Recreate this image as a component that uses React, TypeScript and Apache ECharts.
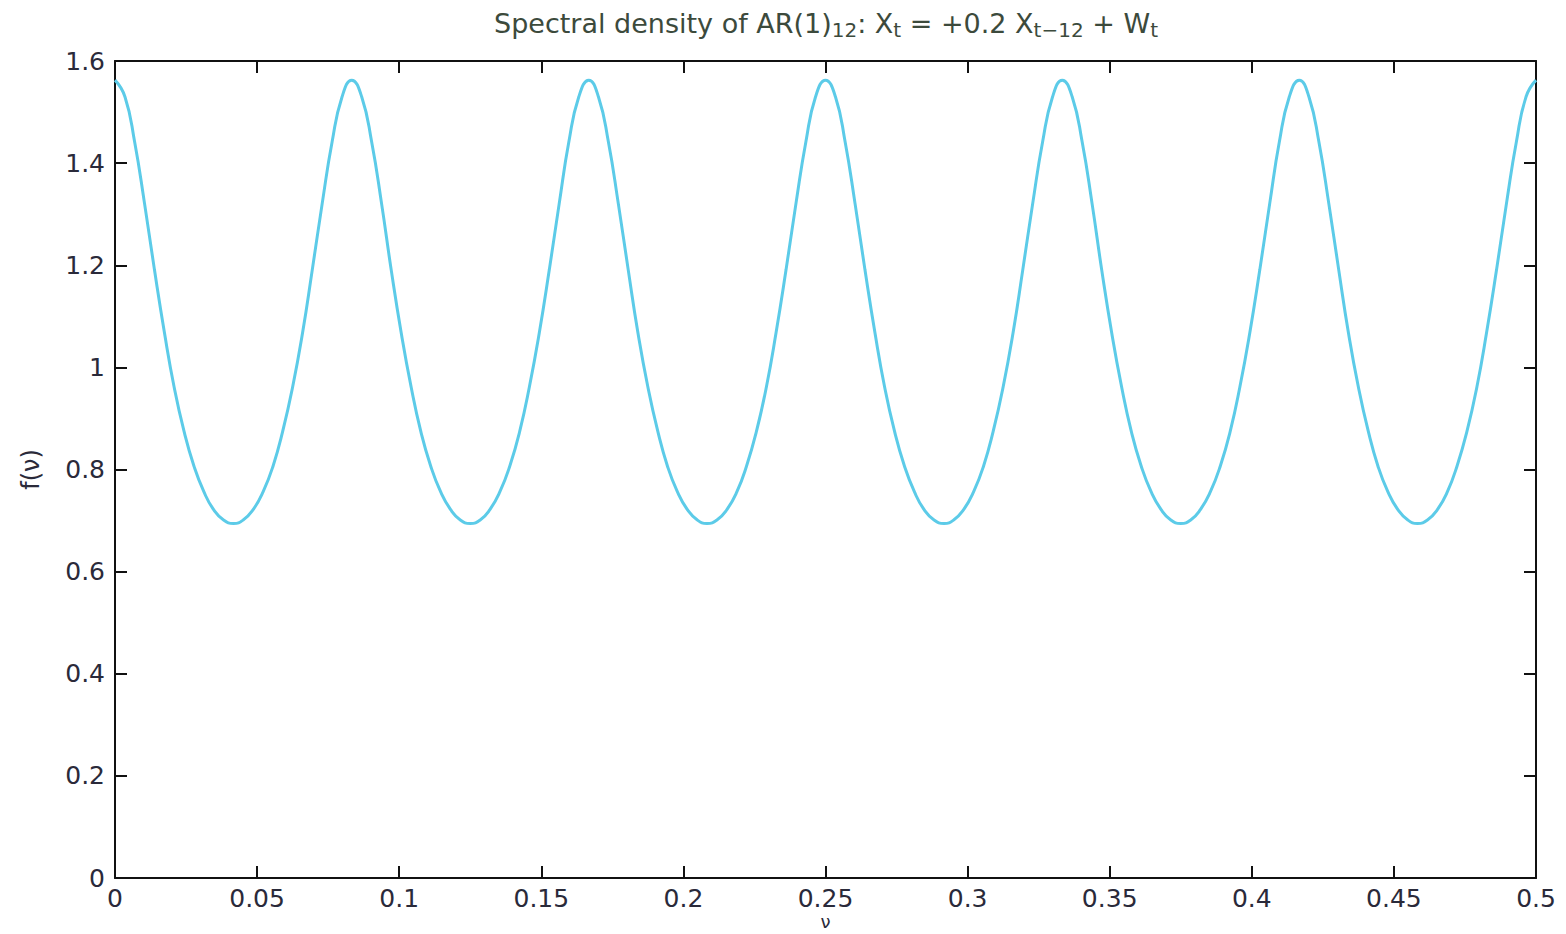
import React, { useEffect, useRef } from "react";
import * as echarts from "echarts";

// frequency ν (cycles per unit time), read along the x axis
const nu: number[] = [
  0, 0.0035, 0.0069, 0.0104, 0.0139, 0.0174, 0.0208, 0.0243, 0.0278, 0.0313, 0.0347, 0.0382,
  0.0417, 0.0451, 0.0486, 0.0521, 0.0556, 0.059, 0.0625, 0.066, 0.0694, 0.0729, 0.0764, 0.0799,
  0.0833, 0.0868, 0.0903, 0.0938, 0.0972, 0.1007, 0.1042, 0.1076, 0.1111, 0.1146, 0.1181, 0.1215,
  0.125, 0.1285, 0.1319, 0.1354, 0.1389, 0.1424, 0.1458, 0.1493, 0.1528, 0.1563, 0.1597, 0.1632,
  0.1667, 0.1701, 0.1736, 0.1771, 0.1806, 0.184, 0.1875, 0.191, 0.1944, 0.1979, 0.2014, 0.2049,
  0.2083, 0.2118, 0.2153, 0.2188, 0.2222, 0.2257, 0.2292, 0.2326, 0.2361, 0.2396, 0.2431, 0.2465,
  0.25, 0.2535, 0.2569, 0.2604, 0.2639, 0.2674, 0.2708, 0.2743, 0.2778, 0.2813, 0.2847, 0.2882,
  0.2917, 0.2951, 0.2986, 0.3021, 0.3056, 0.309, 0.3125, 0.316, 0.3194, 0.3229, 0.3264, 0.3299,
  0.3333, 0.3368, 0.3403, 0.3438, 0.3472, 0.3507, 0.3542, 0.3576, 0.3611, 0.3646, 0.3681, 0.3715,
  0.375, 0.3785, 0.3819, 0.3854, 0.3889, 0.3924, 0.3958, 0.3993, 0.4028, 0.4063, 0.4097, 0.4132,
  0.4167, 0.4201, 0.4236, 0.4271, 0.4306, 0.434, 0.4375, 0.441, 0.4444, 0.4479, 0.4514, 0.4549,
  0.4583, 0.4618, 0.4653, 0.4688, 0.4722, 0.4757, 0.4792, 0.4826, 0.4861, 0.4896, 0.4931, 0.4965,
  0.5,
];

// spectral density f(ν)
const density: number[] = [
  1.5625, 1.5299, 1.4418, 1.3207, 1.1905, 1.0678, 0.9615, 0.8745, 0.8065, 0.756, 0.7213, 0.7011,
  0.6944, 0.7011, 0.7213, 0.756, 0.8065, 0.8745, 0.9615, 1.0678, 1.1905, 1.3207, 1.4418, 1.5299,
  1.5625, 1.5299, 1.4418, 1.3207, 1.1905, 1.0678, 0.9615, 0.8745, 0.8065, 0.756, 0.7213, 0.7011,
  0.6944, 0.7011, 0.7213, 0.756, 0.8065, 0.8745, 0.9615, 1.0678, 1.1905, 1.3207, 1.4418, 1.5299,
  1.5625, 1.5299, 1.4418, 1.3207, 1.1905, 1.0678, 0.9615, 0.8745, 0.8065, 0.756, 0.7213, 0.7011,
  0.6944, 0.7011, 0.7213, 0.756, 0.8065, 0.8745, 0.9615, 1.0678, 1.1905, 1.3207, 1.4418, 1.5299,
  1.5625, 1.5299, 1.4418, 1.3207, 1.1905, 1.0678, 0.9615, 0.8745, 0.8065, 0.756, 0.7213, 0.7011,
  0.6944, 0.7011, 0.7213, 0.756, 0.8065, 0.8745, 0.9615, 1.0678, 1.1905, 1.3207, 1.4418, 1.5299,
  1.5625, 1.5299, 1.4418, 1.3207, 1.1905, 1.0678, 0.9615, 0.8745, 0.8065, 0.756, 0.7213, 0.7011,
  0.6944, 0.7011, 0.7213, 0.756, 0.8065, 0.8745, 0.9615, 1.0678, 1.1905, 1.3207, 1.4418, 1.5299,
  1.5625, 1.5299, 1.4418, 1.3207, 1.1905, 1.0678, 0.9615, 0.8745, 0.8065, 0.756, 0.7213, 0.7011,
  0.6944, 0.7011, 0.7213, 0.756, 0.8065, 0.8745, 0.9615, 1.0678, 1.1905, 1.3207, 1.4418, 1.5299,
  1.5625,
];

const X_MIN = 0;
const X_MAX = 0.5;
const X_STEP = 0.05;
const Y_MIN = 0;
const Y_MAX = 1.6;
const Y_STEP = 0.2;

const FONT = "DejaVu Sans";
const AXIS_COLOR = "#111111";
const LABEL_COLOR = "#2a2a3a";
const TITLE_COLOR = "#3c4a3c";
const LINE_COLOR = "#5ccbe8";

function fmt(v: number): string {
  return String(Math.round(v * 1000) / 1000);
}

export default function App() {
  const ref = useRef<HTMLDivElement>(null);

  useEffect(() => {
    if (!ref.current) return;
    const chart = echarts.init(ref.current, undefined, { renderer: "svg" });

    const tickCommon = {
      show: true,
      inside: true,
      length: 12,
      lineStyle: { color: AXIS_COLOR, width: 2 },
    };
    const lineCommon = { show: true, onZero: false, lineStyle: { color: AXIS_COLOR, width: 2 } };

    chart.setOption({
      animation: false,
      backgroundColor: "#ffffff",
      title: {
        left: 826,
        top: 10,
        padding: 0,
        textAlign: "center",
        text: "{m|Spectral density of AR(1)}{s|12}{m|: X}{s|t}{m| = +0.2 X}{s|t−12}{m| + W}{s|t}",
        textStyle: {
          fontWeight: "normal",
          rich: {
            m: {
              fontFamily: FONT,
              fontSize: 27,
              fontWeight: "normal",
              color: TITLE_COLOR,
              lineHeight: 30,
              verticalAlign: "top",
            },
            s: {
              fontFamily: FONT,
              fontSize: 20,
              fontWeight: "normal",
              color: TITLE_COLOR,
              lineHeight: 20,
              padding: [18, 0, 0, 0],
              verticalAlign: "bottom",
            },
          },
        },
      },
      grid: {
        left: 115,
        top: 61,
        right: 30,
        bottom: 56,
        containLabel: false,
        outerBoundsMode: "none",
      },
      xAxis: [
        {
          type: "value",
          min: X_MIN,
          max: X_MAX,
          interval: X_STEP,
          position: "bottom",
          name: "ν",
          nameLocation: "middle",
          nameGap: 34,
          nameMoveOverlap: false,
          nameTextStyle: { fontFamily: FONT, fontSize: 18, lineHeight: 18, color: LABEL_COLOR },
          axisLine: lineCommon,
          axisTick: tickCommon,
          splitLine: { show: false },
          axisLabel: {
            fontFamily: FONT,
            fontSize: 25,
            color: LABEL_COLOR,
            margin: 8,
            formatter: fmt,
          },
        },
        {
          type: "value",
          min: X_MIN,
          max: X_MAX,
          interval: X_STEP,
          position: "top",
          axisLine: lineCommon,
          axisTick: tickCommon,
          splitLine: { show: false },
          axisLabel: { show: false },
        },
      ],
      yAxis: [
        {
          type: "value",
          min: Y_MIN,
          max: Y_MAX,
          interval: Y_STEP,
          position: "left",
          name: "f(ν)",
          nameLocation: "middle",
          nameGap: 72,
          nameRotate: 90,
          nameMoveOverlap: false,
          nameTextStyle: { fontFamily: FONT, fontSize: 24, color: LABEL_COLOR },
          axisLine: lineCommon,
          axisTick: tickCommon,
          splitLine: { show: false },
          axisLabel: {
            fontFamily: FONT,
            fontSize: 25,
            color: LABEL_COLOR,
            margin: 10,
            formatter: fmt,
          },
        },
        {
          type: "value",
          min: Y_MIN,
          max: Y_MAX,
          interval: Y_STEP,
          position: "right",
          axisLine: lineCommon,
          axisTick: tickCommon,
          splitLine: { show: false },
          axisLabel: { show: false },
        },
      ],
      series: [
        {
          type: "line",
          xAxisIndex: 0,
          yAxisIndex: 0,
          data: nu.map((x, i) => [x, density[i]]),
          smooth: true,
          showSymbol: false,
          symbol: "none",
          lineStyle: { color: LINE_COLOR, width: 3 },
          clip: true,
        },
      ],
    });

    return () => chart.dispose();
  }, []);

  return (
    <div
      ref={ref}
      style={{ position: "fixed", left: 0, top: 0, width: 1566, height: 934, background: "#fff" }}
    />
  );
}
